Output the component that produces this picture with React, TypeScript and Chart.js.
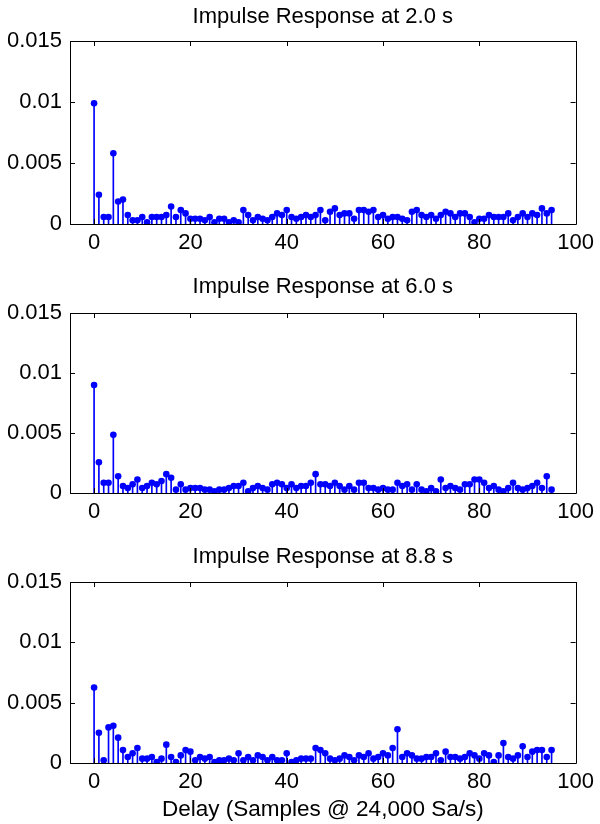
import React, { useEffect, useRef } from "react";
import { Chart, registerables } from "chart.js";

Chart.register(...registerables);

const FONT = "'Liberation Sans', Arial, Helvetica, sans-serif";

const delays = [
  0, 1, 2, 3, 4, 5, 6, 7, 8, 9, 10, 11, 12, 13, 14, 15, 16, 17, 18, 19,
  20, 21, 22, 23, 24, 25, 26, 27, 28, 29, 30, 31, 32, 33, 34, 35, 36, 37, 38, 39,
  40, 41, 42, 43, 44, 45, 46, 47, 48, 49, 50, 51, 52, 53, 54, 55, 56, 57, 58, 59,
  60, 61, 62, 63, 64, 65, 66, 67, 68, 69, 70, 71, 72, 73, 74, 75, 76, 77, 78, 79,
  80, 81, 82, 83, 84, 85, 86, 87, 88, 89, 90, 91, 92, 93, 94, 95,
];

const resp2s = [
  0.0099, 0.0024, 0.00057, 0.00057, 0.0058, 0.00185, 0.002, 0.00073, 0.0003, 0.0003,
  0.00057, 0.00014, 0.00057, 0.00057, 0.00057, 0.00073, 0.00144, 0.00057, 0.00114, 0.00087,
  0.00043, 0.00043, 0.00043, 0.0003, 0.00057, 0.00014, 0.00043, 0.00043, 0.00014, 0.0003,
  0.00014, 0.00114, 0.00073, 0.0003, 0.00057, 0.00043, 0.0003, 0.00057, 0.00087, 0.00073,
  0.00114, 0.00057, 0.00043, 0.00057, 0.00073, 0.00057, 0.00073, 0.00114, 0.0003, 0.001,
  0.00128, 0.00073, 0.00087, 0.00087, 0.00043, 0.00114, 0.00114, 0.001, 0.00114, 0.00057,
  0.00073, 0.00043, 0.00057, 0.00057, 0.00043, 0.0003, 0.001, 0.00114, 0.00073, 0.00057,
  0.00073, 0.00043, 0.00073, 0.001, 0.00087, 0.00057, 0.00087, 0.00087, 0.00057, 0.00014,
  0.00043, 0.00043, 0.00073, 0.00057, 0.00057, 0.00057, 0.00087, 0.0003, 0.00057, 0.00087,
  0.00057, 0.00087, 0.00073, 0.00128, 0.00087, 0.00114,
];

const resp6s = [
  0.009, 0.00256, 0.00085, 0.00085, 0.00485, 0.0014, 0.00058, 0.00041, 0.00072, 0.00113,
  0.00041, 0.00058, 0.00085, 0.00072, 0.00099, 0.00157, 0.00127, 0.00028, 0.00072, 0.00028,
  0.00041, 0.00041, 0.00041, 0.00028, 0.00028, 0.00014, 0.00028, 0.00028, 0.00041, 0.00058,
  0.00058, 0.00085, 0.00014, 0.00041, 0.00058, 0.00041, 0.00028, 0.00072, 0.00085, 0.00072,
  0.00041, 0.00072, 0.00041, 0.00058, 0.00058, 0.00085, 0.00157, 0.00072, 0.00072, 0.00058,
  0.00085, 0.00058, 0.00028, 0.00058, 0.00028, 0.00085, 0.00085, 0.00041, 0.00041, 0.00028,
  0.00041, 0.00028, 0.00028, 0.00085, 0.00058, 0.00072, 0.00028, 0.00072, 0.00028, 0.00014,
  0.00041, 0.00014, 0.00113, 0.00041, 0.00058, 0.00041, 0.00028, 0.00072, 0.00072, 0.00113,
  0.00113, 0.00085, 0.00041, 0.00058, 0.00028, 0.00014, 0.00041, 0.00085, 0.00041, 0.00028,
  0.00041, 0.00058, 0.00085, 0.00041, 0.0014, 0.00028,
];

const resp88s = [
  0.00625, 0.0025, 0.00022, 0.00295, 0.00309, 0.0021, 0.00107, 0.0005, 0.0008, 0.00124,
  0.00036, 0.00036, 0.0005, 0.00008, 0.00036, 0.00152, 0.0005, 0.00008, 0.00063, 0.00107,
  0.00094, 0.00022, 0.0005, 0.00036, 0.0005, 0.00008, 0.00022, 0.00022, 0.00036, 0.00022,
  0.0008, 0.00022, 0.0005, 0.00022, 0.00063, 0.0005, 0.00022, 0.0005, 0.00022, 0.00022,
  0.0008, 0.00008, 0.00022, 0.00036, 0.00036, 0.00036, 0.00124, 0.00107, 0.0008, 0.00036,
  0.00022, 0.00036, 0.00063, 0.0005, 0.00022, 0.00063, 0.0005, 0.0008, 0.00036, 0.0005,
  0.0008, 0.00063, 0.00124, 0.0028, 0.0005, 0.0008, 0.00063, 0.00036, 0.00036, 0.0005,
  0.0005, 0.0008, 0.00022, 0.00094, 0.0005, 0.0005, 0.00036, 0.0005, 0.0008, 0.00063,
  0.00036, 0.0008, 0.00063, 0.00008, 0.00063, 0.00165, 0.0005, 0.00036, 0.00063, 0.00138,
  0.0005, 0.00094, 0.00107, 0.00107, 0.0005, 0.00107,
];

const xTicks = [0, 20, 40, 60, 80, 100];
const xTickLabels = ["0", "20", "40", "60", "80", "100"];
const yTicks = [0, 0.005, 0.01, 0.015];
const yTickLabels = ["0", "0.005", "0.01", "0.015"];

const titles = [
  "Impulse Response at 2.0 s",
  "Impulse Response at 6.0 s",
  "Impulse Response at 8.8 s",
];
const xAxisLabel = "Delay (Samples @ 24,000 Sa/s)";

const BLUE = "rgb(0,0,255)";

const framePlugin = {
  id: "frame",
  afterDatasetsDraw(chart: any, _args: any, opts: any) {
    const { ctx, chartArea } = chart;
    const { left, right, top, bottom } = chartArea;
    const xs = chart.scales.x;
    const ys = chart.scales.y;
    ctx.save();
    ctx.strokeStyle = "#000";
    ctx.lineWidth = 1;
    ctx.beginPath();
    ctx.rect(Math.round(left) + 0.5, Math.round(top) + 0.5, Math.round(right - left), Math.round(bottom - top));
    ctx.stroke();
    const TL = 5;
    ctx.beginPath();
    for (const v of xTicks) {
      const px = Math.round(xs.getPixelForValue(v)) + 0.5;
      ctx.moveTo(px, bottom);
      ctx.lineTo(px, bottom - TL);
      ctx.moveTo(px, top);
      ctx.lineTo(px, top + TL);
    }
    for (const v of yTicks) {
      const py = Math.round(ys.getPixelForValue(v)) + 0.5;
      ctx.moveTo(left, py);
      ctx.lineTo(left + TL, py);
      ctx.moveTo(right, py);
      ctx.lineTo(right - TL, py);
    }
    ctx.stroke();
    ctx.fillStyle = "#000";
    ctx.textAlign = "center";
    ctx.textBaseline = "alphabetic";
    if (opts.title) {
      ctx.font = `22px ${FONT}`;
      ctx.fillText(opts.title, (left + right) / 2, top - opts.titleGap);
    }
    if (opts.xLabel) {
      ctx.font = `22.5px ${FONT}`;
      ctx.fillText(opts.xLabel, (left + right) / 2, opts.xLabelY);
    }
    ctx.restore();
  },
};

type PanelProps = {
  pageTop: number;
  height: number;
  padTop: number;
  xHeight: number;
  titleGap: number;
  values: number[];
  title: string;
  xLabel?: string;
  xLabelY?: number;
};

function Panel({ pageTop, height, padTop, xHeight, titleGap, values, title, xLabel, xLabelY }: PanelProps) {
  const ref = useRef<HTMLCanvasElement>(null);
  useEffect(() => {
    const pts = delays.map((d, i) => ({ x: d, y: values[i] }));
    const chart = new Chart(ref.current as HTMLCanvasElement, {
      type: "bar",
      data: {
        datasets: [
          {
            type: "line",
            data: pts,
            showLine: false,
            pointRadius: 3.3,
            pointBackgroundColor: BLUE,
            pointBorderColor: BLUE,
            pointBorderWidth: 0,
            order: 0,
          } as any,
          {
            type: "bar",
            data: pts,
            backgroundColor: BLUE,
            borderWidth: 0,
            barThickness: 1,
            order: 1,
          } as any,
        ],
      },
      options: {
        animation: false,
        responsive: false,
        events: [],
        layout: { padding: { top: padTop, left: 8, right: 20, bottom: 0 } },
        plugins: {
          legend: { display: false },
          tooltip: { enabled: false },
          frame: { title, xLabel, xLabelY, titleGap },
        } as any,
        scales: {
          x: {
            type: "linear",
            min: -5,
            max: 100,
            offset: false,
            grid: { display: false, drawTicks: false },
            border: { display: false },
            ticks: {
              color: "#000",
              font: { family: FONT, size: 22 },
              padding: 6,
              includeBounds: false,
              autoSkip: false,
              maxRotation: 0,
              callback: (_v: any, i: number) => xTickLabels[i],
            },
            afterBuildTicks: (s: any) => {
              s.ticks = xTicks.map((v) => ({ value: v }));
            },
            afterFit: (s: any) => {
              s.height = xHeight;
            },
          },
          y: {
            type: "linear",
            min: 0,
            max: 0.015,
            grid: { display: false, drawTicks: false },
            border: { display: false },
            ticks: {
              color: "#000",
              font: { family: FONT, size: 22 },
              padding: 8,
              autoSkip: false,
              callback: (_v: any, i: number) => yTickLabels[i],
            },
            afterBuildTicks: (s: any) => {
              s.ticks = yTicks.map((v) => ({ value: v }));
            },
            afterFit: (s: any) => {
              s.width = 62;
            },
          },
        } as any,
      },
      plugins: [framePlugin as any],
    });
    return () => chart.destroy();
  }, []);
  return (
    <div style={{ position: "absolute", left: 0, top: pageTop, width: 600, height }}>
      <canvas ref={ref} width={600} height={height} style={{ display: "block" }} />
    </div>
  );
}

export default function App() {
  return (
    <div style={{ position: "absolute", left: 0, top: 0, width: 600, height: 824, background: "#fff" }}>
      <Panel pageTop={0} height={270} padTop={41} xHeight={46} titleGap={18.5} values={resp2s} title={titles[0]} />
      <Panel pageTop={270} height={270} padTop={43} xHeight={47} titleGap={20} values={resp6s} title={titles[1]} />
      <Panel
        pageTop={540}
        height={284}
        padTop={42}
        xHeight={61}
        titleGap={19.5}
        values={resp88s}
        title={titles[2]}
        xLabel={xAxisLabel}
        xLabelY={276}
      />
    </div>
  );
}
